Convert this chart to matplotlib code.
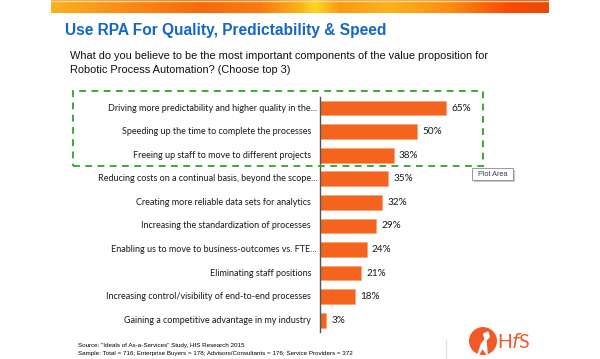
import numpy as np
import matplotlib
matplotlib.use("Agg")
import matplotlib.pyplot as plt
from matplotlib import transforms
from matplotlib.patches import Rectangle, Circle
from matplotlib.colors import LinearSegmentedColormap

# data
labels = [
    "Driving more predictability and higher quality in the...",
    "Speeding up the time to complete the processes",
    "Freeing up staff to move to different projects",
    "Reducing costs on a continual basis, beyond the scope...",
    "Creating more reliable data sets for analytics",
    "Increasing the standardization of processes",
    "Enabling us to move to business-outcomes vs. FTE...",
    "Eliminating staff positions",
    "Increasing control/visibility of end-to-end processes",
    "Gaining a competitive advantage in my industry",
]
values = [65, 50, 38, 35, 32, 29, 24, 21, 18, 3]

title = "Use RPA For Quality, Predictability & Speed"
question = ["What do you believe to be the most important components of the value proposition for",
            "Robotic Process Automation? (Choose top 3)"]
source = ['Source: "Ideals of As-a-Services" Study, HfS Research 2015',
          "Sample: Total = 716; Enterprise Buyers = 178; Advisors/Consultants = 176; Service Providers = 372"]

W, H = 600, 359
BAR = "#F5641E"


def fx(x):
    return x / W


def fy(y):
    return 1 - y / H


fig = plt.figure(figsize=(6, 3.59), dpi=100)
fig.patch.set_facecolor("white")

# orange banner on top
ban = fig.add_axes([fx(51), fy(13), fx(549 - 51), 13 / H])
cmap = LinearSegmentedColormap.from_list("ban", [
    (0.0, "#F9B11F"), (0.12, "#F9921A"), (0.3, "#F76A0C"), (0.42, "#F97B10"),
    (0.5, "#FBB21A"), (0.53, "#FFD720"), (0.58, "#FA9A14"), (0.68, "#FBB21C"),
    (0.8, "#F98E12"), (0.92, "#FA4A05"), (1.0, "#E94B08")])
grad = np.linspace(0, 1, 400)[None, :]
ban.imshow(grad, aspect="auto", cmap=cmap, extent=[0, 1, 0, 1])
ban.axhline(0.93, color="#F6D9A0", lw=1)
ban.axis("off")

fig.text(fx(65), fy(35), title, fontsize=11.2, fontweight="bold", color="#1467C6",
         family="Liberation Sans", va="baseline")
fig.text(fx(70), fy(59), question[0], fontsize=7.95, color="#111111",
         family="Liberation Sans", va="baseline")
fig.text(fx(70), fy(73), question[1], fontsize=7.95, color="#111111",
         family="Liberation Sans", va="baseline")

# bar chart
ax = fig.add_axes([fx(320), fy(332), 194 / W, (332 - 97) / H])
y = np.arange(len(values))
ax.barh(y, values, height=0.62, color=BAR, edgecolor="#F8A070", linewidth=0.5)
ax.set_xlim(0, 100)
ax.set_ylim(9.5, -0.47)
for s in ["top", "right", "bottom"]:
    ax.spines[s].set_visible(False)
ax.spines["left"].set_color("#555555")
ax.spines["left"].set_linewidth(1)
ax.set_xticks([])
ax.set_yticks([])

for i, (lab, v) in enumerate(zip(labels, values)):
    off = 3 if lab.endswith("...") else 9
    tr = ax.get_yaxis_transform() + transforms.ScaledTranslation(-off / 100, 0, fig.dpi_scale_trans)
    ax.text(0, i, lab, transform=tr, ha="right", va="center", fontsize=6.5,
            family="Lato", color="#1a1a1a")
    ax.annotate(f"{v}%", (v, i), xytext=(3.8, 0), textcoords="offset points",
                ha="left", va="center", fontsize=7.2, family="Lato", color="#1a1a1a")

# dashed highlight box
fig.patches.append(Rectangle((fx(73), fy(166)), fx(483 - 73), (166 - 91) / H,
                             transform=fig.transFigure, fill=False,
                             edgecolor="#3DAA35", lw=1.4, ls=(0, (3.5, 2.8))))

# "Plot Area" tooltip
fig.patches.append(Rectangle((fx(474), fy(182)), fx(41), 12 / H, transform=fig.transFigure,
                             facecolor="#C8C8C8", edgecolor="none"))
fig.patches.append(Rectangle((fx(472), fy(180)), fx(41), 12 / H, transform=fig.transFigure,
                             facecolor="white", edgecolor="#8A8A8A", lw=0.6))
fig.text(fx(492.5), fy(174), "Plot Area", fontsize=5.2, color="#3A3A5A",
         family="Liberation Sans", ha="center", va="center")

# source notes
fig.text(fx(78), fy(346.5), source[0], fontsize=4.5, family="Liberation Sans", va="baseline")
fig.text(fx(78), fy(354.5), source[1], fontsize=4.5, family="Liberation Sans", va="baseline")

# faint divider and logo
fig.add_artist(plt.Line2D([fx(446), fx(446)], [fy(340), fy(359)], transform=fig.transFigure,
                          color="#E2E2E2", lw=1))
logo = fig.add_axes([fx(469), fy(355), 28 / W, 28 / H])
logo.set_xlim(-1, 1)
logo.set_ylim(-1, 1)
logo.set_aspect("equal")
logo.add_patch(Circle((0, 0), 0.95, color="#F05A28"))
logo.fill([-0.35, -0.1, 0.15, 0.05, 0.35, 0.45, 0.2, 0.3, -0.05, -0.3],
          [-0.95, -0.2, 0.1, 0.5, 0.65, 0.3, 0.05, -0.95, -0.5, -0.95], color="white")
logo.axis("off")
fig.text(fx(497), fy(341), "H$\\it{f}$S", fontsize=14, family="Lato",
         color="#F05A28", va="center")

fig.savefig("out.png", dpi=100)
